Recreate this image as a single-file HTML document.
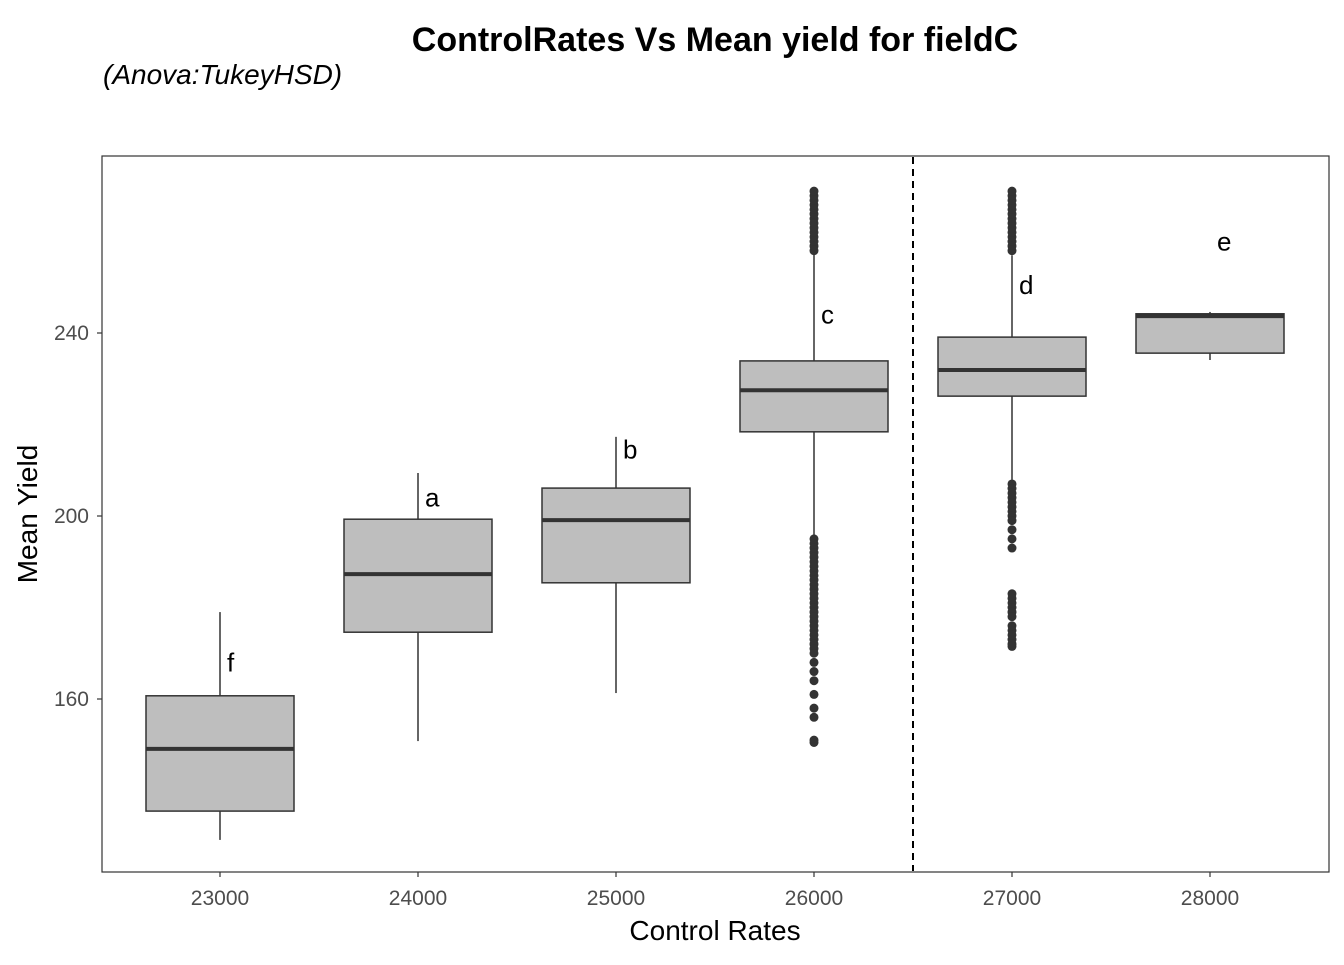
<!DOCTYPE html>
<html><head><meta charset="utf-8"><style>
body{margin:0;background:#fff;}
svg text{font-family:"Liberation Sans",Arial,sans-serif;}
</style></head><body>
<svg id="chart" width="1344" height="960" viewBox="0 0 1344 960" xmlns="http://www.w3.org/2000/svg">
<text x="715" y="51" text-anchor="middle" font-size="34" font-weight="bold">ControlRates Vs Mean yield for fieldC</text>
<text x="103" y="84" font-size="28" font-style="italic">(Anova:TukeyHSD)</text>
<rect x="102" y="156" width="1227" height="716" fill="#fff" stroke="#333" stroke-width="1.2"/>
<g id="marks"></g>
<text x="715" y="940" text-anchor="middle" font-size="28">Control Rates</text>
<text transform="translate(37,514) rotate(-90)" text-anchor="middle" font-size="28">Mean Yield</text>
</svg>
<script>
const categories=[23000,24000,25000,26000,27000,28000];
const whiskerLow=[129.2,150.8,161.3,195.2,207.9,234.1];
const q1=[135.5,174.6,185.4,218.4,226.2,235.6];
const median=[149.1,187.3,199.1,227.5,231.9,243.7];
const q3=[160.7,199.3,206.1,233.9,239.1,244.2];
const whiskerHigh=[179,209.4,217.3,258,257,244.6];
const letters=['f','a','b','c','d','e'];
const letterY=[168,204,214.5,244,250.5,260];
const outliers26000=[258,259,260,261,262,263,264,265,266,267,268,269,270,271,195,194,193,192,191,190,189,188,187,186,185,184,183,182,181,180,179,178,177,176,175,174,173,172,171,170,168,166,164,161,158,156,151,150.5];
const outliers27000=[258,259,260,261,262,263,264,265,266,267,268,269,270,271,207,206,205,204,203,202,201,200,199,197,195,193,183,182,181,180,179,178,176,175,174,173,172,171.5];
const yTicks=[160,200,240];
const dividerAt=26500;
const NS='http://www.w3.org/2000/svg';
const X=v=>220+(v-23000)*0.198;
const Y=v=>333+(240-v)*4.575;
const g=document.getElementById('marks');
function mk(t,a){const e=document.createElementNS(NS,t);for(const k in a)e.setAttribute(k,a[k]);g.appendChild(e);return e;}
const bw=148;
categories.forEach((c,i)=>{
 const x=X(c);
 let e=mk('line',{x1:x,x2:x,y1:Y(whiskerHigh[i]),y2:Y(q3[i]),stroke:'#333','stroke-width':1.5});
 
 
 e=mk('line',{x1:x,x2:x,y1:Y(q1[i]),y2:Y(whiskerLow[i]),stroke:'#333','stroke-width':1.5});
 
 
 e=mk('rect',{x:x-bw/2,y:Y(q3[i]),width:bw,height:Y(q1[i])-Y(q3[i]),fill:'#bebebe',stroke:'#333','stroke-width':1.5});
 
 
 e=mk('line',{x1:x-bw/2,x2:x+bw/2,y1:Y(median[i]),y2:Y(median[i]),stroke:'#333','stroke-width':4});
 
 
 e=mk('text',{x:x+7,y:Y(letterY[i])+9,'font-size':26});
 e.textContent=letters[i];
 
 
 e=mk('line',{x1:x,x2:x,y1:872,y2:877,stroke:'#333','stroke-width':1.2});
 
 
 e=mk('text',{x:x,y:905,'font-size':21,fill:'#4d4d4d','text-anchor':'middle'});
 e.textContent=c;
 
 
});
[[26000,outliers26000],[27000,outliers27000]].forEach(([c,arr])=>{
 arr.forEach(v=>{
  const e=mk('circle',{cx:X(c),cy:Y(v),r:4.5,fill:'#333'});
  
  
 });
});
yTicks.forEach(t=>{
 let e=mk('line',{x1:97,x2:102,y1:Y(t),y2:Y(t),stroke:'#333','stroke-width':1.2});
 
 
 e=mk('text',{x:89,y:Y(t)+7,'font-size':21,fill:'#4d4d4d','text-anchor':'end'});
 e.textContent=t;
 
 
});
const d=mk('line',{x1:X(dividerAt),x2:X(dividerAt),y1:157,y2:871,stroke:'#000','stroke-width':2,'stroke-dasharray':'7,5'});


</script>
</body></html>
